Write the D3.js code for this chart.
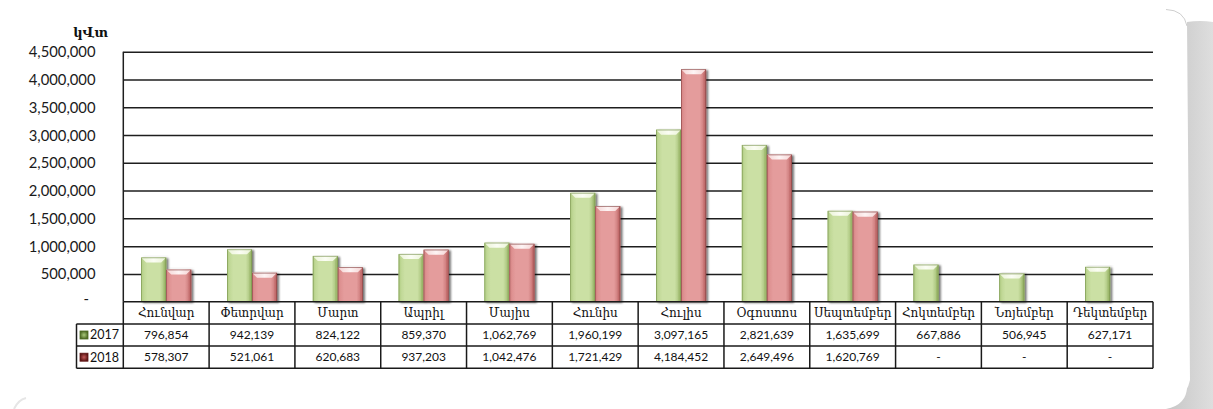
<!DOCTYPE html>
<html><head><meta charset="utf-8">
<script src="https://cdn.jsdelivr.net/npm/d3@7"></script>
<style>body{margin:0;background:#fff}svg{display:block}</style>
</head><body><svg id="c" width="1213" height="409"></svg>
<script>
const months = ["Հունվար","Փետրվար","Մարտ","Ապրիլ","Մայիս","Հունիս","Հուլիս","Օգոստոս","Սեպտեմբեր","Հոկտեմբեր","Նոյեմբեր","Դեկտեմբեր"];
const seriesNames = ["2017","2018"];
const values2017 = [796854, 942139, 824122, 859370, 1062769, 1960199, 3097165, 2821639, 1635699, 667886, 506945, 627171];
const values2018 = [578307, 521061, 620683, 937203, 1042476, 1721429, 4184452, 2649496, 1620769, null, null, null];
const yTicks = [0, 500000, 1000000, 1500000, 2000000, 2500000, 3000000, 3500000, 4000000, 4500000];
const unitLabel = "կՎտ";

const W = 1213, H = 409;
const L = 123.3, R = 1153, T = 51.7, B = 301.7;
const rowH = 22.2;
const labelLeft = 76.5;
const numFont = "Lato, 'DejaVu Sans', sans-serif";
const armFont = "'DejaVu Serif', serif";

const svg = d3.select("#c");
const defs = svg.append("defs");

const pal = {
  "2017": {main:"#cbe0a4", light:"#eaf3d6", hi:"#fbfdf4", left:"#b8d28c", right:"#9cb86c", line:"#6f8a45", mk1:"#4f6b25", mk2:"#a9c97a"},
  "2018": {main:"#e49c9c", light:"#f5d3d3", hi:"#fdf4f4", left:"#d98989", right:"#c06a6a", line:"#7e3c3c", mk1:"#5e1515", mk2:"#c45a5a"}
};
Object.entries(pal).forEach(([k,c])=>{
  const g = defs.append("linearGradient").attr("id","g"+k).attr("x1","0").attr("x2","1").attr("y1","0").attr("y2","0");
  g.append("stop").attr("offset","0").attr("stop-color",c.left);
  g.append("stop").attr("offset","0.25").attr("stop-color",c.main);
  g.append("stop").attr("offset","0.75").attr("stop-color",c.main);
  g.append("stop").attr("offset","1").attr("stop-color",c.right);
  const t = defs.append("linearGradient").attr("id","t"+k).attr("x1","0").attr("x2","1").attr("y1","0").attr("y2","0");
  t.append("stop").attr("offset","0").attr("stop-color",c.light);
  t.append("stop").attr("offset","0.5").attr("stop-color",c.hi);
  t.append("stop").attr("offset","1").attr("stop-color",c.light);
  const m = defs.append("radialGradient").attr("id","m"+k);
  m.append("stop").attr("offset","0").attr("stop-color",c.mk2);
  m.append("stop").attr("offset","1").attr("stop-color",c.mk1);
});
const sh = defs.append("linearGradient").attr("id","shadowR").attr("x1","0").attr("x2","1").attr("y1","0").attr("y2","0");
sh.append("stop").attr("offset","0").attr("stop-color","#a9a9a9");
sh.append("stop").attr("offset","0.25").attr("stop-color","#c6c6c6");
sh.append("stop").attr("offset","1").attr("stop-color","#dedede");
const tl = defs.append("linearGradient").attr("id","topline").attr("x1","0").attr("x2","1").attr("y1","0").attr("y2","0");
tl.append("stop").attr("offset","0").attr("stop-color","#bbb");
tl.append("stop").attr("offset","0.03").attr("stop-color","#777");
tl.append("stop").attr("offset","0.97").attr("stop-color","#777");
tl.append("stop").attr("offset","1").attr("stop-color","#aaa");
const f = defs.append("filter").attr("id","ds").attr("x","-20%").attr("y","-5%").attr("width","150%").attr("height","120%");
f.append("feGaussianBlur").attr("in","SourceAlpha").attr("stdDeviation",1.2);
f.append("feOffset").attr("dx",1.8).attr("dy",0.5).attr("result","ob");
f.append("feComponentTransfer").append("feFuncA").attr("type","linear").attr("slope",0.55);
const fm = f.append("feMerge"); fm.append("feMergeNode"); fm.append("feMergeNode").attr("in","SourceGraphic");

// right-side shadow strip
svg.append("path").attr("d",`M1187,22 Q1200,20 1213,22 L1213,409 L1150,409 Q1185,405 1190,380 Z`).attr("fill","url(#shadowR)");
// card
svg.append("path").attr("d",`M-10,9.5 H1166 Q1187,9.5 1187,30 V386 Q1187,405 1166,409 H-10 Z`).attr("fill","#fff");
svg.append("path").attr("d",`M28,9.5 H1166`).attr("stroke","url(#topline)").attr("stroke-width",1.3).attr("fill","none");
svg.append("path").attr("d",`M1166,9.5 Q1184,10 1187,26`).attr("stroke","#cfcfcf").attr("stroke-width",1).attr("fill","none");
svg.append("path").attr("d",`M14,409 Q18,400 26,398`).attr("stroke","#e6e6e6").attr("stroke-width",2).attr("fill","none");

// scales
const x = d3.scaleBand().domain(months).range([L,R]).paddingInner(0).paddingOuter(0);
const xs = d3.scaleBand().domain(seriesNames).range([0,x.bandwidth()]).paddingInner(0).paddingOuter(0.716);
const y = d3.scaleLinear().domain([0,4500000]).range([B,T]);

// gridlines
const grid = svg.append("g").attr("transform",`translate(${L},0)`)
  .call(d3.axisLeft(y).tickValues(yTicks.filter(d=>d>0)).tickSize(-(R-L)).tickFormat(""));
grid.select(".domain").remove();
grid.selectAll("line").attr("stroke","#1e1e1e").attr("stroke-width",1.5);

// y axis labels
const yax = svg.append("g").attr("transform",`translate(95.5,0)`)
  .call(d3.axisLeft(y).tickValues(yTicks).tickSize(0).tickPadding(0)
    .tickFormat(d=> d===0 ? "-" : d3.format(",")(d)));
yax.select(".domain").remove();
yax.selectAll("text").attr("font-family",numFont).attr("font-size","14.8px").attr("fill","#1a1a1a")
  .attr("dy","0.34em");
yax.selectAll(".tick").filter(d=>d===0).select("text").attr("x",-6.5).attr("dy","0.1em");

// unit label
svg.append("text").attr("x",108).attr("y",36.5).attr("text-anchor","end")
  .attr("font-family",armFont).attr("font-weight","bold").attr("font-size","13px").attr("fill","#111").text(unitLabel);

// y axis line
svg.append("line").attr("x1",L).attr("x2",L).attr("y1",T).attr("y2",B).attr("stroke","#1e1e1e").attr("stroke-width",1.5);

// bars
const data = [];
months.forEach((m,i)=>{
  [[seriesNames[0],values2017[i]],[seriesNames[1],values2018[i]]].forEach(([s,v])=>{
    if(v!=null) data.push({m,s,v});
  });
});
const bars = svg.append("g").selectAll("g").data(data).join("g").attr("filter","url(#ds)");
bars.each(function(d){
  const g = d3.select(this);
  const bx = x(d.m)+xs(d.s), bw = xs.bandwidth(), by = y(d.v), bh = B - y(d.v);
  const c = pal[d.s];
  const b = 5;
  g.append("rect").attr("x",bx).attr("y",by).attr("width",bw).attr("height",bh).attr("fill",`url(#g${d.s})`);
  g.append("path").attr("d",`M${bx},${by} L${bx+bw},${by} L${bx+bw-b},${by+b} L${bx+b},${by+b} Z`).attr("fill",`url(#t${d.s})`);
  g.append("path").attr("d",`M${bx+bw},${by} L${bx+bw},${B} L${bx+bw-2.5},${B} L${bx+bw-2.5},${by+b}Z`).attr("fill",c.right).attr("opacity",0.8);
  g.append("path").attr("d",`M${bx},${by} L${bx},${B} L${bx+2},${B} L${bx+2},${by+b}Z`).attr("fill",c.left);
  g.append("rect").attr("x",bx+0.4).attr("y",by+0.4).attr("width",bw-0.8).attr("height",bh-0.4)
    .attr("fill","none").attr("stroke",c.line).attr("stroke-width",0.8).attr("stroke-opacity",0.7);
});

// data table
const tbl = svg.append("g");
const lineStyle = sel => sel.attr("stroke","#1a1a1a").attr("stroke-width",1.5);
tbl.append("line").attr("x1",L).attr("x2",R).attr("y1",B).attr("y2",B).call(lineStyle);
[1,2,3].forEach(r=>{
  tbl.append("line").attr("x1",labelLeft).attr("x2",R).attr("y1",B+r*rowH).attr("y2",B+r*rowH).call(lineStyle);
});
tbl.append("line").attr("x1",labelLeft).attr("x2",labelLeft).attr("y1",B+rowH).attr("y2",B+3*rowH).call(lineStyle);
months.forEach(m=>{
  tbl.append("line").attr("x1",x(m)).attr("x2",x(m)).attr("y1",B).attr("y2",B+3*rowH).call(lineStyle);
});
tbl.append("line").attr("x1",R).attr("x2",R).attr("y1",B).attr("y2",B+3*rowH).call(lineStyle);

tbl.selectAll("text.cat").data(months).join("text").attr("class","cat")
  .attr("x",d=>x(d)+x.bandwidth()/2).attr("y",B+rowH/2).attr("dy","0.35em").attr("text-anchor","middle")
  .attr("font-family",armFont).attr("font-size","12px").attr("fill","#111").text(d=>d);

const rows = [[seriesNames[0],values2017],[seriesNames[1],values2018]];
rows.forEach(([s,vals],ri)=>{
  const cy = B + rowH*(ri+1) + rowH/2;
  tbl.append("rect").attr("x",80).attr("y",cy-4).attr("width",8).attr("height",8)
    .attr("fill",`url(#m${s})`).attr("stroke",pal[s].mk1).attr("stroke-width",0.8);
  tbl.append("text").attr("x",90).attr("y",cy).attr("dy","0.35em")
    .attr("font-family",numFont).attr("font-size","12.5px").attr("fill","#111").text(s);
  tbl.selectAll(null).data(vals).join("text")
    .attr("x",(d,i)=>x(months[i])+x.bandwidth()/2).attr("y",cy).attr("dy","0.35em").attr("text-anchor","middle")
    .attr("font-family",numFont).attr("font-size","12px").attr("fill","#111")
    .text(d=> d==null ? "-" : d3.format(",")(d));
});
</script>
</body></html>
